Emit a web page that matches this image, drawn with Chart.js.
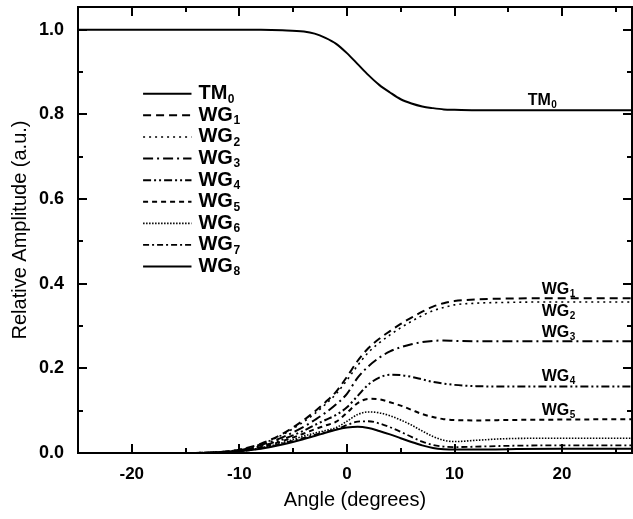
<!DOCTYPE html>
<html>
<head>
<meta charset="utf-8">
<script src="https://cdn.jsdelivr.net/npm/chart.js@4/dist/chart.umd.min.js"></script>
<style>
  body { margin: 0; background: #fff; }
  canvas { display: block; }
</style>
</head>
<body>
<canvas id="ampChart" width="633" height="519"></canvas>
<script>
const FONT = '"Liberation Sans", Arial, Helvetica, sans-serif';

// angle samples (degrees) shared by every curve
const angles = [-25, -15, -12, -10, -8, -6, -4, -3, -2, -1, 0, 1, 2, 3, 4, 5, 6, 7, 8, 9, 10, 12, 15, 20, 26.5];

const tm0 = [1.0, 1.0, 1.0, 1.0, 1.0, 0.999, 0.996, 0.991, 0.981, 0.967, 0.945, 0.919, 0.893, 0.870, 0.852, 0.836, 0.826, 0.819, 0.815, 0.812, 0.811, 0.81, 0.81, 0.81, 0.81];
const wg1 = [0, 0, 0.002, 0.008, 0.022, 0.045, 0.078, 0.098, 0.12, 0.145, 0.18, 0.218, 0.248, 0.27, 0.288, 0.305, 0.32, 0.334, 0.346, 0.354, 0.359, 0.363, 0.365, 0.366, 0.366];
const wg2 = [0, 0, 0.002, 0.008, 0.021, 0.043, 0.074, 0.093, 0.115, 0.14, 0.172, 0.207, 0.238, 0.26, 0.279, 0.296, 0.311, 0.325, 0.336, 0.344, 0.35, 0.354, 0.356, 0.357, 0.357];
const wg3 = [0, 0, 0.002, 0.007, 0.019, 0.037, 0.062, 0.078, 0.095, 0.115, 0.14, 0.178, 0.205, 0.225, 0.24, 0.25, 0.257, 0.262, 0.265, 0.266, 0.265, 0.264, 0.264, 0.264, 0.264];
const wg4 = [0, 0, 0.002, 0.006, 0.016, 0.032, 0.053, 0.066, 0.078, 0.09, 0.108, 0.135, 0.162, 0.178, 0.185, 0.184, 0.18, 0.174, 0.168, 0.164, 0.161, 0.158, 0.157, 0.157, 0.157];
const wg5 = [0, 0, 0.001, 0.005, 0.014, 0.028, 0.046, 0.056, 0.065, 0.074, 0.095, 0.118, 0.128, 0.127, 0.12, 0.112, 0.102, 0.092, 0.085, 0.08, 0.078, 0.077, 0.078, 0.079, 0.08];
const wg6 = [0, 0, 0.001, 0.004, 0.012, 0.024, 0.04, 0.047, 0.053, 0.06, 0.075, 0.091, 0.097, 0.095, 0.088, 0.078, 0.066, 0.052, 0.039, 0.03, 0.027, 0.03, 0.034, 0.035, 0.035];
const wg7 = [0, 0, 0.001, 0.004, 0.011, 0.022, 0.036, 0.043, 0.05, 0.056, 0.066, 0.074, 0.075, 0.07, 0.061, 0.05, 0.038, 0.027, 0.019, 0.015, 0.014, 0.015, 0.017, 0.018, 0.018];
const wg8 = [0, 0, 0.001, 0.004, 0.01, 0.02, 0.033, 0.04, 0.048, 0.055, 0.06, 0.062, 0.059, 0.052, 0.044, 0.035, 0.026, 0.018, 0.012, 0.009, 0.008, 0.008, 0.009, 0.01, 0.01];

// series names: base text + subscript digit
const seriesNames = [['TM', '0'], ['WG', '1'], ['WG', '2'], ['WG', '3'], ['WG', '4'], ['WG', '5'], ['WG', '6'], ['WG', '7'], ['WG', '8']];

const xTickLabels = [-20, -10, 0, 10, 20];
const xMinorTicks = [-15, -5, 5, 15, 25];
const yTickLabels = [0, 0.2, 0.4, 0.6, 0.8, 1.0];
const yMinorTicks = [0.1, 0.3, 0.5, 0.7, 0.9];

// line styles for each series
const styles = [
  { dash: [], width: 2 },
  { dash: [8, 5], width: 2 },
  { dash: [2, 4], width: 1.6 },
  { dash: [10, 4, 2, 4], width: 2 },
  { dash: [8, 3, 2, 3, 2, 3], width: 2 },
  { dash: [5, 4], width: 2 },
  { dash: [1.5, 1.5], width: 1.6 },
  { dash: [6, 3, 2, 3], width: 1.8 },
  { dash: [], width: 2 }
];

// in-plot labels next to the curve ends, anchored in data units
const curveTags = [
  { name: ['TM', '0'], x: 16.8, y: 0.832 },
  { name: ['WG', '1'], x: 18.1, y: 0.385 },
  { name: ['WG', '2'], x: 18.1, y: 0.334 },
  { name: ['WG', '3'], x: 18.1, y: 0.284 },
  { name: ['WG', '4'], x: 18.1, y: 0.180 },
  { name: ['WG', '5'], x: 18.1, y: 0.100 }
];

const allSeries = [tm0, wg1, wg2, wg3, wg4, wg5, wg6, wg7, wg8];
const datasets = allSeries.map((vals, i) => ({
  label: seriesNames[i].join(''),
  data: angles.map((a, k) => ({ x: a, y: vals[k] })),
  borderColor: '#000',
  borderWidth: styles[i].width,
  borderDash: styles[i].dash,
  pointRadius: 0,
  fill: false,
  cubicInterpolationMode: 'monotone'
}));

function subText(ctx, parts, x, y, size, subSize) {
  ctx.font = `bold ${size}px ${FONT}`;
  ctx.fillText(parts[0], x, y);
  const w = ctx.measureText(parts[0]).width;
  ctx.font = `bold ${subSize}px ${FONT}`;
  ctx.fillText(parts[1], x + w + 0.5, y + size * 0.28);
}

// box frame with inward ticks on all four sides
const frame = {
  id: 'frame',
  afterDatasetsDraw(chart) {
    const { ctx, chartArea: a, scales: { x, y } } = chart;
    ctx.save();
    ctx.strokeStyle = '#000';
    ctx.lineWidth = 2;
    ctx.setLineDash([]);
    ctx.strokeRect(a.left, a.top, a.right - a.left, a.bottom - a.top);
    ctx.beginPath();
    const xt = xTickLabels.map(v => [v, 9]).concat(xMinorTicks.map(v => [v, 5]));
    xt.forEach(([v, len]) => {
      const px = Math.round(x.getPixelForValue(v));
      ctx.moveTo(px, a.bottom); ctx.lineTo(px, a.bottom - len);
      ctx.moveTo(px, a.top); ctx.lineTo(px, a.top + len);
    });
    const yt = yTickLabels.map(v => [v, 9]).concat(yMinorTicks.map(v => [v, 5]));
    yt.forEach(([v, len]) => {
      const py = Math.round(y.getPixelForValue(v));
      ctx.moveTo(a.left, py); ctx.lineTo(a.left + len, py);
      ctx.moveTo(a.right, py); ctx.lineTo(a.right - len, py);
    });
    ctx.stroke();
    ctx.restore();
  }
};

// legend block and curve tags
const annotations = {
  id: 'annotations',
  afterDraw(chart) {
    const { ctx, scales: { x, y } } = chart;
    ctx.save();
    ctx.fillStyle = '#000';
    ctx.strokeStyle = '#000';
    ctx.textBaseline = 'middle';
    ctx.textAlign = 'left';

    const x0 = x.getPixelForValue(-18.95);
    const x1 = x.getPixelForValue(-14.45);
    const tx = x.getPixelForValue(-13.8);
    const top = y.getPixelForValue(0.849);
    seriesNames.forEach((name, i) => {
      const ry = top + i * 21.6;
      ctx.lineWidth = styles[i].width;
      ctx.setLineDash(styles[i].dash);
      ctx.beginPath();
      ctx.moveTo(x0, ry);
      ctx.lineTo(x1, ry);
      ctx.stroke();
      subText(ctx, name, tx, ry, 20, 12);
    });

    ctx.setLineDash([]);
    curveTags.forEach(t => {
      subText(ctx, t.name, x.getPixelForValue(t.x), y.getPixelForValue(t.y), 16, 10);
    });
    ctx.restore();
  }
};

// keep the plot box fixed: no extra room for half-height edge labels
function fixBox(width, height) {
  return s => {
    if (width) s.width = width;
    if (height) s.height = height;
    s.paddingTop = 0;
    s.paddingBottom = 0;
    s.paddingLeft = 0;
    s.paddingRight = 0;
  };
}

Chart.defaults.font.family = FONT;
Chart.defaults.color = '#000';

new Chart(document.getElementById('ampChart'), {
  type: 'line',
  data: { datasets },
  options: {
    responsive: false,
    animation: false,
    devicePixelRatio: 1,
    layout: { padding: { top: 7, right: 1, left: 0, bottom: 0 } },
    plugins: { legend: { display: false }, tooltip: { enabled: false } },
    scales: {
      x: {
        type: 'linear',
        min: -25,
        max: 26.5,
        afterBuildTicks: s => { s.ticks = xTickLabels.map(v => ({ value: v })); },
        afterFit: fixBox(0, 66),
        grid: { display: false, drawTicks: false },
        border: { display: false },
        ticks: { font: { size: 17, weight: 'bold' }, padding: 11, maxRotation: 0 },
        title: { display: true, text: 'Angle (degrees)', font: { size: 20 }, padding: { top: 0, bottom: 7 } }
      },
      y: {
        min: 0,
        max: 1.054,
        afterBuildTicks: s => { s.ticks = yTickLabels.map(v => ({ value: v })); },
        afterFit: fixBox(78, 0),
        grid: { display: false, drawTicks: false },
        border: { display: false },
        ticks: { font: { size: 18, weight: 'bold' }, padding: 14, callback: v => v.toFixed(1) },
        title: { display: true, text: 'Relative Amplitude (a.u.)', font: { size: 20 }, padding: { top: 8, bottom: 0 } }
      }
    }
  },
  plugins: [frame, annotations]
});
</script>
</body>
</html>
